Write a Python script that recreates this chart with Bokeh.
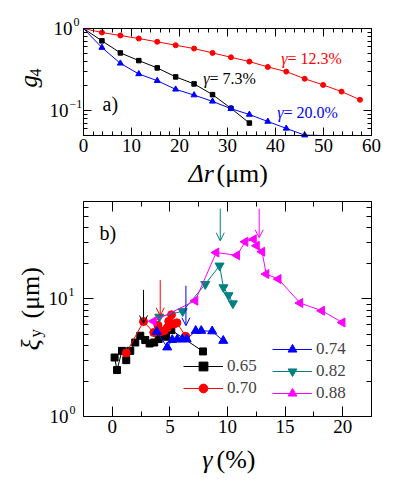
import math
from bokeh.plotting import figure
from bokeh.models import (Label, LinearAxis, LogAxis, FixedTicker, SingleIntervalTicker,
                          Arrow, OpenHead, Legend, LegendItem, CustomJSTickFormatter)
from bokeh.layouts import column
from bokeh.embed import file_html
from bokeh.resources import INLINE

FONT = "Liberation Serif"

# ---------------- panel a) data ----------------
dr_red = [0, 3.84, 7.68, 11.52, 15.36, 19.2, 23.04, 26.88, 30.72, 34.56, 38.4, 42.24, 46.08, 49.92, 53.76, 57.6]
g4_red = [1, 0.894, 0.822, 0.755, 0.689, 0.626, 0.570, 0.505, 0.447, 0.396, 0.341, 0.299, 0.245, 0.206, 0.171, 0.136]
dr_black = [0, 3.84, 7.68, 11.52, 15.36, 19.2, 23.04, 26.88, 30.72, 34.56]
g4_black = [1, 0.708, 0.505, 0.407, 0.332, 0.258, 0.212, 0.157, 0.107, 0.0708]
dr_blue = [0, 3.84, 7.68, 11.52, 15.36, 19.2, 23.04, 26.88, 30.72, 34.56, 38.4, 42.24, 46.08, 49.92]
g4_blue = [1, 0.586, 0.377, 0.280, 0.232, 0.182, 0.155, 0.130, 0.106, 0.090, 0.074, 0.061, 0.0505, 0.0500]

# ---------------- panel b) data ----------------
gam_065 = [0.2, 0.41, 0.84, 1.21, 1.56, 1.99, 2.43, 2.86, 3.24, 3.64, 4.02, 4.66, 5.12, 7.87]
xi_065 = [3.17, 2.48, 3.61, 3.01, 3.61, 4.25, 4.85, 4.46, 4.17, 4.25, 4.55, 4.76, 5.42, 3.57]
gam_070 = [1.21, 2.71, 3.6, 3.96, 4.2, 4.5, 4.77, 4.9, 5.14, 5.36, 5.61, 6.37]
xi_070 = [3.46, 6.41, 5.17, 5.96, 5.25, 5.35, 5.67, 6.44, 7.31, 6.1, 6.25, 4.8]
gam_074 = [3.86, 4.77, 5.2, 5.64, 6.07, 6.46, 7.24, 7.72, 8.67, 9.63]
xi_074 = [5.25, 3.87, 4.48, 4.53, 4.53, 4.53, 5.35, 5.35, 5.3, 4.4]
gam_082 = [4.08, 6.11, 8.07, 9.31, 9.65, 10.09, 10.47]
xi_082 = [7.03, 7.83, 13.3, 19.1, 12.5, 10.7, 9.12]
gam_088 = [3.58, 7.2, 9.02, 10.82, 11.54, 12.27, 12.53, 13.0, 13.36, 14.42, 16.3, 18.19, 19.97]
xi_088 = [6.44, 9.62, 24.7, 23.4, 30.5, 32.0, 28.2, 25.1, 16.2, 14.7, 9.2, 7.91, 6.29]

arrow_gam = [2.71, 4.16, 6.39, 9.37, 12.75]
arrow_from = [11.9, 14.4, 12.9, 58.2, 58.2]
arrow_to = [6.17, 7.17, 5.9, 31.1, 33.0]
arrow_col = ["black", "#ff0000", "#0000ff", "#008080", "#ff00ff"]

top_xlim = (0, 60)
top_ylim = (0.05, 1)
top_yticks = [0.1, 1]
top_yminor = [0.05, 0.06, 0.07, 0.08, 0.09, 0.2, 0.3, 0.4, 0.5, 0.6, 0.7, 0.8, 0.9]
bot_xlim = (-2.5, 22.5)
bot_ylim = (1, 67)
bot_yticks = [1, 10]
bot_yminor = [2, 3, 4, 5, 6, 7, 8, 9, 20, 30, 40, 50, 60]

# ---------------- layout (pixels) ----------------
W = 387
H1, H2 = 190, 293
BOX_L, BOX_R = 83, 371
BOX1_T, BOX1_B = 28, 135      # within figure 1
BOX2_T, BOX2_B = 11, 226      # within figure 2


def lin_range(lim, box_l, box_r, width):
    lo, hi = lim
    k = (hi - lo) / (box_r - box_l)
    return (lo - box_l * k, hi + (width - box_r) * k)


def log_range(lim, box_t, box_b, height):
    lo, hi = lim
    dec = math.log10(hi / lo) / (box_b - box_t)
    return (lo * 10 ** (-(height - box_b) * dec), hi * 10 ** (box_t * dec))


def add_axes(p, xt, yt, xlim, ylim, maj, mnr):
    blank = CustomJSTickFormatter(code="return ''")
    axes = [
        (LinearAxis(ticker=xt, fixed_location=ylim[0], bounds=xlim), "below"),
        (LinearAxis(ticker=xt, fixed_location=ylim[1], bounds=xlim, formatter=blank), "above"),
        (LogAxis(ticker=yt, fixed_location=xlim[0], bounds=ylim, formatter=blank), "left"),
        (LogAxis(ticker=yt, fixed_location=xlim[1], bounds=ylim, formatter=blank), "right"),
    ]
    for ax, side in axes:
        ax.major_tick_in = maj
        ax.major_tick_out = 0
        ax.minor_tick_in = mnr
        ax.minor_tick_out = 0
        ax.axis_line_color = "black"
        ax.major_tick_line_color = "black"
        ax.minor_tick_line_color = "black"
        ax.major_label_text_font = FONT
        ax.major_label_text_font_size = "19px"
        ax.major_label_text_color = "black"
        ax.major_label_standoff = 3
        p.add_layout(ax, side)


def make_fig(h, xlim, ylim, box_t, box_b):
    p = figure(width=W, height=h,
               x_range=lin_range(xlim, BOX_L, BOX_R, W),
               y_range=log_range(ylim, box_t, box_b, h),
               y_axis_type="log", x_axis_location=None, y_axis_location=None,
               output_backend="svg", toolbar_location=None, min_border=0)
    p.outline_line_color = None
    p.grid.visible = False
    return p


def lab(p, h, text, px, py, size, italic=False, color="black", align="left",
        baseline="middle", angle=0.0, yoff=0, ydata=None):
    kw = dict(x=px, x_units="screen", text=text, text_font=FONT, text_font_size=f"{size}px",
              text_font_style="italic" if italic else "normal", text_color=color,
              text_align=align, text_baseline=baseline, angle=angle, y_offset=yoff)
    if ydata is None:
        kw.update(y=h - py, y_units="screen")
    else:
        kw.update(y=ydata, y_units="data")
    p.add_layout(Label(**kw))


# ---------------- top figure ----------------
p1 = make_fig(H1, top_xlim, top_ylim, BOX1_T, BOX1_B)
add_axes(p1, SingleIntervalTicker(interval=10, num_minor_ticks=5),
         FixedTicker(ticks=top_yticks, minor_ticks=top_yminor), top_xlim, top_ylim, 8, 4)

p1.line(dr_red, g4_red, color="#ff0000", line_width=1)
p1.scatter(dr_red[1:], g4_red[1:], marker="circle", size=5, color="#ff0000")
p1.line(dr_black, g4_black, color="black", line_width=1)
p1.scatter(dr_black[1:], g4_black[1:], marker="square", size=4.5, color="black")
p1.line(dr_blue, g4_blue, color="#0000ff", line_width=1)
p1.scatter(dr_blue[1:-1], g4_blue[1:-1], marker="triangle", size=6, color="#0000ff")

# y tick labels 10^n
lab(p1, H1, "10", 72, 0, 19, align="right", ydata=1)
lab(p1, H1, "0", 73, 0, 12, yoff=7, ydata=1)
lab(p1, H1, "10", 68, 0, 19, align="right", ydata=0.1)
lab(p1, H1, "\u22121", 69, 0, 12, yoff=7, ydata=0.1)

# axis titles (rotated ones anchored on their baseline)
lab(p1, H1, "g", 28, 87, 25, italic=True, angle=math.pi / 2, baseline="alphabetic")
lab(p1, H1, "4", 35, 76, 16, angle=math.pi / 2, baseline="alphabetic")
lab(p1, H1, "\u0394r", 188, 172.5, 26, italic=True)
lab(p1, H1, "(\u03bcm)", 216, 172.5, 26)
lab(p1, H1, "a)", 102, 103, 20)

# curve annotations
lab(p1, H1, "\u03b3", 280.7, 58, 16, italic=True, color="#ff0000")
lab(p1, H1, "= 12.3%", 287, 58, 16, color="#ff0000")
lab(p1, H1, "\u03b3", 202.7, 78, 16, italic=True, color="black")
lab(p1, H1, "= 7.3%", 209, 78, 16, color="black")
lab(p1, H1, "\u03b3", 276.7, 112, 16, italic=True, color="#0000ff")
lab(p1, H1, "= 20.0%", 283, 112, 16, color="#0000ff")

# ---------------- bottom figure ----------------
p2 = make_fig(H2, bot_xlim, bot_ylim, BOX2_T, BOX2_B)
add_axes(p2, SingleIntervalTicker(interval=5, num_minor_ticks=2),
         FixedTicker(ticks=bot_yticks, minor_ticks=bot_yminor), bot_xlim, bot_ylim, 10, 5)

l65 = p2.line(gam_065, xi_065, color="black", line_width=1)
s65 = p2.scatter(gam_065, xi_065, marker="square", size=7, color="black")
l70 = p2.line(gam_070, xi_070, color="#ff0000", line_width=1)
s70 = p2.scatter(gam_070, xi_070, marker="circle", size=8, color="#ff0000")
l74 = p2.line(gam_074, xi_074, color="#0000ff", line_width=1)
s74 = p2.scatter(gam_074, xi_074, marker="triangle", size=9, color="#0000ff")
l82 = p2.line(gam_082, xi_082, color="#008080", line_width=1)
s82 = p2.scatter(gam_082, xi_082, marker="inverted_triangle", size=9, color="#008080")
l88 = p2.line(gam_088, xi_088, color="#ff00ff", line_width=1)
s88 = p2.scatter(gam_088, xi_088, marker="triangle", angle=math.pi / 2, size=9, color="#ff00ff")

for gx, y0, y1, c in zip(arrow_gam, arrow_from, arrow_to, arrow_col):
    p2.add_layout(Arrow(x_start=gx, y_start=y0, x_end=gx, y_end=y1, line_color=c, line_width=1,
                        end=OpenHead(size=8, line_color=c, line_width=1)))

common = dict(glyph_width=40, glyph_height=22, label_height=22, spacing=0, padding=0, margin=0,
              label_standoff=4, label_text_font=FONT, label_text_font_size="17px",
              background_fill_alpha=0, border_line_alpha=0)
leg1 = Legend(items=[LegendItem(label="0.65", renderers=[l65, s65]),
                     LegendItem(label="0.70", renderers=[l70, s70])],
              location=(183, 84), **common)
leg2 = Legend(items=[LegendItem(label="0.74", renderers=[l74, s74]),
                     LegendItem(label="0.82", renderers=[l82, s82]),
                     LegendItem(label="0.88", renderers=[l88, s88])],
              location=(272, 79), **common)
p2.add_layout(leg1)
p2.add_layout(leg2)

# y tick labels 10^n
lab(p2, H2, "10", 68, 0, 19, align="right", ydata=1)
lab(p2, H2, "0", 69, 0, 12, yoff=7, ydata=1)
lab(p2, H2, "10", 67, 0, 19, align="right", ydata=10)
lab(p2, H2, "1", 68, 0, 12, yoff=7, ydata=10)

# axis titles (page y minus 190 = figure y)
lab(p2, H2, "\u03be", 30, 350 - 190, 26, italic=True, angle=math.pi / 2, baseline="alphabetic")
lab(p2, H2, "y", 35, 337 - 190, 17, angle=math.pi / 2, baseline="alphabetic")
lab(p2, H2, "(\u03bcm)", 30, 318 - 190, 26, angle=math.pi / 2, baseline="alphabetic")
lab(p2, H2, "\u03b3", 201.7, 458.5 - 190, 26, italic=True)
lab(p2, H2, "(%)", 216, 458.5 - 190, 26)
lab(p2, H2, "b)", 99, 232 - 190, 20)

layout = column(p1, p2)
open("out.html", "w").write(file_html(layout, INLINE))
